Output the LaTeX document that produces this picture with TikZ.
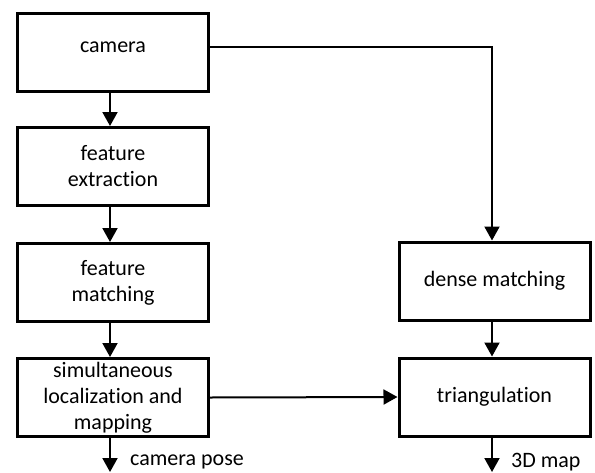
\documentclass[tikz,border=0pt]{standalone}
\usepackage{fontspec}
\setmainfont{Carlito}[Ligatures={NoCommon}]
\usetikzlibrary{arrows.meta}
\begin{document}
\begin{tikzpicture}[x=1pt,y=-1pt,
  box/.style={draw,line width=3pt,minimum width=191pt,minimum height=78pt,align=center,font=\fontsize{22}{26}\selectfont,inner sep=0pt},
  conn/.style={line width=2pt,-{Triangle[width=15pt,length=14pt]}},
  lbl/.style={font=\fontsize{22}{26}\selectfont,anchor=west,inner sep=0pt}]
\useasboundingbox (0,0) rectangle (595,472);
\node[box] (cam) at (113,52) {\raisebox{0pt}[\height][\dimexpr\depth+10pt\relax]{camera}};
\node[box] (fe) at (113,166.5) {feature\\extraction};
\node[box] (fm) at (113,282.5) {feature\\matching};
\node[box] (slam) at (113,397.5) {simultaneous\\localization and\\mapping};
\node[box] (dm) at (494.5,281) {dense matching};
\node[box] (tri) at (494.5,397) {triangulation};
\coordinate (c1) at (492,47);
\coordinate (e1) at (110,472);
\coordinate (e2) at (492,472);
\node[lbl] (lp) at (130,462) {camera pose};
\node[lbl] (lm) at (511,462) {3D map};
\draw[conn] (cam.south -| 110,0) -- (fe.north -| 110,0);
\draw[conn] (fe.south -| 110,0) -- (fm.north -| 110,0);
\draw[conn] (fm.south -| 110,0) -- (slam.north -| 110,0);
\draw[conn] (cam.east |- c1) -- (c1) -- (dm.north -| c1);
\draw[conn] (dm.south -| c1) -- (tri.north -| c1);
\draw[conn] (slam.east) -- (tri.west);
\draw[conn] (slam.south -| e1) -- (e1);
\draw[conn] (tri.south -| e2) -- (e2);
\end{tikzpicture}
\end{document}
